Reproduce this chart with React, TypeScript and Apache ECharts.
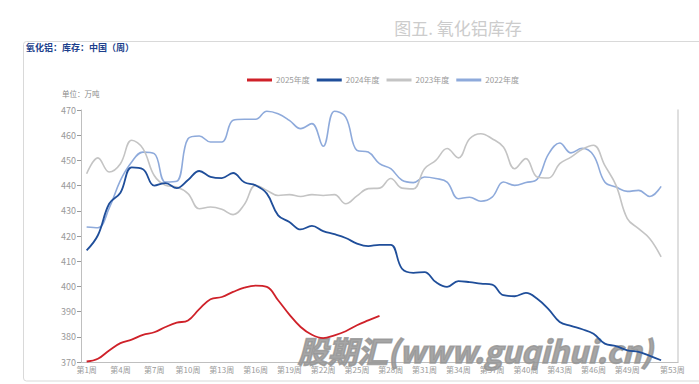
import React, { useEffect, useRef } from "react";
import * as echarts from "echarts";

const weeks: string[] = Array.from({ length: 53 }, (_, i) => `第${i + 1}周`);

const yearNames = ["2025年度", "2024年度", "2023年度", "2022年度"];

const data2025 = [
  370.2, 371.3, 374.6, 377.5, 378.9, 380.8, 381.8, 383.9, 385.6, 386.5,
  391.0, 394.9, 395.8, 397.8, 399.5, 400.3, 399.8, 394.5, 388.8, 383.9,
  380.8, 379.5, 380.6, 382.2, 384.6, 386.5, 388.3,
];

const data2024 = [
  414.3, 420.3, 432.8, 437.2, 447.2, 446.5, 440.0, 441.0, 439.0, 442.2,
  445.8, 443.5, 443.0, 445.0, 441.3, 440.1, 436.8, 428.2, 425.6, 422.6,
  424.0, 421.9, 420.7, 419.2, 417.0, 416.0, 416.5, 416.5, 407.0, 405.4,
  405.7, 401.7, 399.8, 402.1, 401.7, 401.1, 400.7, 396.5, 396.1, 397.4,
  395.1, 391.0, 385.9, 384.3, 383.0, 381.2, 377.3, 376.3, 374.6, 374.0,
  372.4, 370.7,
];

const data2023 = [
  444.7, 451.0, 445.4, 448.7, 458.0, 454.7, 444.0, 440.1, 439.4, 436.8,
  430.8, 431.5, 430.6, 428.5, 432.5, 440.1, 438.1, 436.1, 436.4, 435.7,
  436.4, 436.1, 436.4, 432.8, 435.9, 438.8, 439.0, 442.8, 439.0, 438.7,
  446.7, 450.0, 454.7, 451.0, 458.6, 460.6, 458.6, 455.3, 446.7, 450.7,
  443.4, 443.0, 448.7, 451.3, 454.4, 456.0, 448.0, 440.1, 426.9, 422.9,
  418.9, 411.7,
];

const data2022 = [
  423.6, 423.3, 431.0, 442.1, 449.4, 453.3, 452.7, 441.4, 441.7, 458.6,
  459.7, 457.3, 457.3, 465.9, 466.3, 466.3, 469.5, 468.5, 465.9, 462.6,
  464.6, 455.6, 469.5, 467.2, 454.0, 453.3, 448.7, 446.7, 442.1, 441.2,
  443.4, 442.8, 441.4, 434.8, 435.4, 433.8, 435.4, 441.4, 440.1, 441.2,
  442.5, 452.5, 456.9, 453.0, 454.8, 452.0, 441.4, 439.4, 437.7, 438.1,
  435.7, 439.7,
];

const colors = ["#cf2129", "#1f4e9a", "#c4c4c4", "#8eaadb"];
const seriesData = [data2025, data2024, data2023, data2022];

export default function App() {
  const ref = useRef<HTMLDivElement>(null);

  useEffect(() => {
    if (!ref.current) return;
    const chart = echarts.init(ref.current, undefined, { renderer: "svg" });
    const font = "'Noto Sans CJK SC', 'Noto Sans', sans-serif";
    chart.setOption({
      animation: false,
      backgroundColor: "#ffffff",
      textStyle: { fontFamily: font },
      title: {
        text: "图五. 氧化铝库存",
        left: 453,
        top: 14,
        textAlign: "center",
        textStyle: { color: "#cccccc", fontSize: 17, fontWeight: "normal", fontFamily: font },
      },
      legend: {
        data: yearNames,
        left: 242,
        top: 71,
        icon: "rect",
        itemWidth: 25,
        itemHeight: 3,
        itemGap: 7,
        textStyle: { color: "#9a9a9a", fontSize: 8, fontFamily: font, padding: [0, 0, 0, -1] },
      },
      grid: { left: 81, right: 21, top: 110, bottom: 22, containLabel: false },
      xAxis: {
        type: "category",
        data: weeks,
        boundaryGap: true,
        axisLine: { lineStyle: { color: "#bfbfbf", width: 1 } },
        axisTick: {
          interval: (i: number) => i % 3 === 0,
          length: 4,
          lineStyle: { color: "#9a9a9a" },
        },
        axisLabel: {
          interval: (i: number) => (i % 3 === 0 && i < 51) || i === 52,
          color: "#9a9a9a",
          fontSize: 8,
          margin: 3,
          fontFamily: font,
        },
      },
      yAxis: [
        {
          type: "value",
          min: 370,
          max: 470,
          interval: 10,
          axisLine: { show: true, lineStyle: { color: "#bfbfbf" } },
          axisTick: { show: true, length: 4, lineStyle: { color: "#9a9a9a" } },
          axisLabel: { color: "#9a9a9a", fontSize: 9, margin: 5, fontFamily: font },
          splitLine: { show: false },
        },
        {
          type: "value",
          position: "right",
          min: 370,
          max: 470,
          interval: 10,
          axisLine: { show: true, lineStyle: { color: "#d4d4d4", width: 1.5 } },
          axisTick: { show: false },
          axisLabel: { show: false },
          splitLine: { show: false },
        },
      ],
      graphic: [
        {
          type: "rect",
          z: 0,
          shape: { x: 23.5, y: 41.5, width: 700, height: 339.5, r: 3 },
          style: { fill: "none", stroke: "#d9d9d9", lineWidth: 1 },
          silent: true,
        },
        {
          type: "text",
          left: 26,
          top: 43,
          style: {
            text: "氧化铝：库存：中国（周）",
            fill: "#1c3f8c",
            font: `bold 9px ${font}`,
          },
        },
        {
          type: "text",
          left: 62,
          top: 90,
          style: {
            text: "单位：万吨",
            fill: "#8a8a8a",
            font: `7.5px ${font}`,
          },
        },
        {
          type: "text",
          left: 297,
          top: 334,
          z: 1,
          style: {
            text: "股期汇(www.guqihui.cn)",
            fill: "rgba(150,150,150,0.85)",
            stroke: "rgba(150,150,150,0.85)",
            lineWidth: 1.6,
            font: `italic bold 30px ${font}`,
          },
        },
      ],
      series: yearNames.map((name, idx) => ({
        name,
        type: "line",
        data: seriesData[idx],
        smooth: 0.4,
        symbol: "none",
        lineStyle: { color: colors[idx], width: idx === 1 || idx === 0 ? 1.8 : 1.6 },
        itemStyle: { color: colors[idx] },
        z: 10 - idx,
      })),
    });
    return () => chart.dispose();
  }, []);

  return (
    <div
      ref={ref}
      style={{ position: "fixed", left: 0, top: 0, width: 699, height: 384 }}
    />
  );
}
